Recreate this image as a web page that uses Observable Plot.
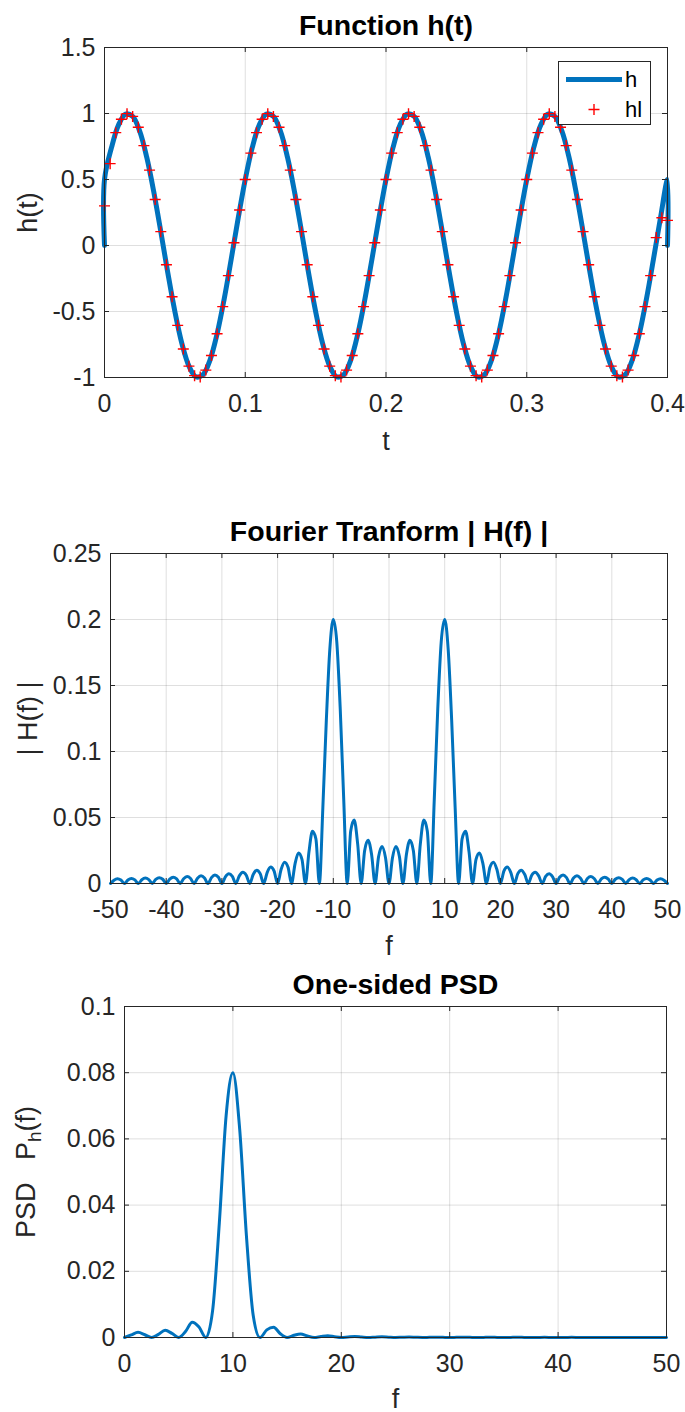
<!DOCTYPE html>
<html><head><meta charset="utf-8">
<script src="https://cdn.jsdelivr.net/npm/d3@7"></script>
<script src="https://cdn.jsdelivr.net/npm/@observablehq/plot@0.6"></script>
<style>
html,body{margin:0;padding:0;background:#fff;}
body{width:685px;height:1412px;position:relative;overflow:hidden;font-family:"Liberation Sans",Arial,Helvetica,sans-serif;}
.panel{position:absolute;left:0;}
#legend{position:absolute;left:558px;top:61px;}
</style></head><body>
<div id="p1" class="panel" style="top:0px"></div>
<div id="p2" class="panel" style="top:460px"></div>
<div id="p3" class="panel" style="top:950px"></div>
<svg id="legend" width="94" height="65" font-family="Liberation Sans, Arial, sans-serif">
  <rect x="0.5" y="0.5" width="92" height="63" fill="#fff" stroke="#262626" stroke-width="1"></rect>
  <line x1="8" x2="64" y1="18.5" y2="18.5" stroke="#0072BD" stroke-width="5"></line>
  <text x="67" y="26" font-size="22" fill="#000">h</text>
  <path d="M30.5,48.5h11M36,43v11" stroke="#FF0000" stroke-width="1.4" fill="none"></path>
  <text x="67" y="56" font-size="22" fill="#000">hl</text>
</svg>
<script>
// ---------- Panel 1: h(t) and hl ----------
const hT = [0,0,0.005,0.01,0.015,0.02,0.025,0.03,0.035,0.04,0.045,0.05,0.055,0.06,0.065,0.07,0.075,0.08,0.085,0.09,0.095,0.1,0.105,0.11,0.115,0.12,0.125,0.13,0.135,0.14,0.145,0.15,0.155,0.16,0.165,0.17,0.175,0.18,0.185,0.19,0.195,0.2,0.205,0.21,0.215,0.22,0.225,0.23,0.235,0.24,0.245,0.25,0.255,0.26,0.265,0.27,0.275,0.28,0.285,0.29,0.295,0.3,0.305,0.31,0.315,0.32,0.325,0.33,0.335,0.34,0.345,0.35,0.355,0.36,0.365,0.37,0.375,0.38,0.385,0.39,0.395,0.4,0.4];
const hV = [0,
 0.5,0.743,0.914,0.995,0.978,0.866,0.669,0.407,0.105,-0.208,-0.5,-0.743,-0.914,-0.995,-0.978,-0.866,-0.669,-0.407,-0.105,0.208,
 0.5,0.743,0.914,0.995,0.978,0.866,0.669,0.407,0.105,-0.208,-0.5,-0.743,-0.914,-0.995,-0.978,-0.866,-0.669,-0.407,-0.105,0.208,
 0.5,0.743,0.914,0.995,0.978,0.866,0.669,0.407,0.105,-0.208,-0.5,-0.743,-0.914,-0.995,-0.978,-0.866,-0.669,-0.407,-0.105,0.208,
 0.5,0.743,0.914,0.995,0.978,0.866,0.669,0.407,0.105,-0.208,-0.5,-0.743,-0.914,-0.995,-0.978,-0.866,-0.669,-0.407,-0.105,0.208,
 0.5,0];
const hlT = [0,0.004,0.008,0.012,0.016,0.02,0.024,0.028,0.032,0.036,0.04,0.044,0.048,0.052,0.056,0.06,0.064,0.068,0.072,0.076,0.08,0.084,0.088,0.092,0.096,0.1,0.104,0.108,0.112,0.116,0.12,0.124,0.128,0.132,0.136,0.14,0.144,0.148,0.152,0.156,0.16,0.164,0.168,0.172,0.176,0.18,0.184,0.188,0.192,0.196,0.2,0.204,0.208,0.212,0.216,0.22,0.224,0.228,0.232,0.236,0.24,0.244,0.248,0.252,0.256,0.26,0.264,0.268,0.272,0.276,0.28,0.284,0.288,0.292,0.296,0.3,0.304,0.308,0.312,0.316,0.32,0.324,0.328,0.332,0.336,0.34,0.344,0.348,0.352,0.356,0.36,0.364,0.368,0.372,0.376,0.38,0.384,0.388,0.392,0.396,0.4];
const hlV = [
 0.30,0.62,0.855,0.957,0.999,0.978,0.896,0.757,0.571,0.349,0.105,-0.146,-0.388,-0.605,-0.784,-0.914,-0.986,-0.997,-0.944,-0.833,-0.669,-0.463,-0.228,0.021,0.269,
 0.5,0.7,0.855,0.957,0.999,0.978,0.896,0.757,0.571,0.349,0.105,-0.146,-0.388,-0.605,-0.784,-0.914,-0.986,-0.997,-0.944,-0.833,-0.669,-0.463,-0.228,0.021,0.269,
 0.5,0.7,0.855,0.957,0.999,0.978,0.896,0.757,0.571,0.349,0.105,-0.146,-0.388,-0.605,-0.784,-0.914,-0.986,-0.997,-0.944,-0.833,-0.669,-0.463,-0.228,0.021,0.269,
 0.5,0.7,0.855,0.957,0.999,0.978,0.896,0.757,0.571,0.349,0.105,-0.146,-0.388,-0.605,-0.784,-0.914,-0.986,-0.997,-0.944,-0.833,-0.669,-0.463,-0.228,0.06,0.21,
 0.19];

// ---------- Panel 2: |H(f)| ----------
const fH = [-50,-49.375,-48.75,-48.125,-47.5,-46.875,-46.25,-45.625,-45,-44.375,-43.75,-43.125,-42.5,-41.875,-41.25,-40.625,-40,-39.375,-38.75,-38.125,-37.5,-36.875,-36.25,-35.625,-35,-34.375,-33.75,-33.125,-32.5,-31.875,-31.25,-30.625,-30,-29.375,-28.75,-28.125,-27.5,-26.875,-26.25,-25.625,-25,-24.375,-23.75,-23.125,-22.5,-21.875,-21.25,-20.625,-20,-19.375,-18.75,-18.125,-17.5,-16.875,-16.25,-15.625,-15,-14.375,-13.75,-13.125,-12.5,-11.875,-11.25,-10.625,-10,-9.375,-8.75,-8.125,-7.5,-6.875,-6.25,-5.625,-5,-4.375,-3.75,-3.125,-2.5,-1.875,-1.25,-0.625,
 0,0.625,1.25,1.875,2.5,3.125,3.75,4.375,5,5.625,6.25,6.875,7.5,8.125,8.75,9.375,10,10.625,11.25,11.875,12.5,13.125,13.75,14.375,15,15.625,16.25,16.875,17.5,18.125,18.75,19.375,20,20.625,21.25,21.875,22.5,23.125,23.75,24.375,25,25.625,26.25,26.875,27.5,28.125,28.75,29.375,30,30.625,31.25,31.875,32.5,33.125,33.75,34.375,35,35.625,36.25,36.875,37.5,38.125,38.75,39.375,40,40.625,41.25,41.875,42.5,43.125,43.75,44.375,45,45.625,46.25,46.875,47.5,48.125,48.75,49.375,50];
const magH = [0,0.00252,0.00362,0.0026,0,0.00268,0.00386,0.00277,0,0.00287,0.00413,0.00297,0,0.00308,0.00445,0.00321,0,0.00334,0.00482,0.00348,0,0.00364,0.00527,0.00381,0,0.00401,0.00581,0.00422,0,0.00446,0.00649,0.00473,0,0.00503,0.00735,0.00538,0,0.00578,0.0085,0.00625,0,0.00681,0.01008,0.00748,0,0.0083,0.01241,0.00932,0,0.01062,0.01615,0.01235,0,0.01473,0.02304,0.01821,0,0.02375,0.03952,0.03384,0,0.05762,0.12375,0.1774,0.2,0.18304,0.13177,0.06336,0,0.03977,0.04809,0.02998,0,0.02486,0.03282,0.02195,0,0.02032,0.02808,0.01958,
 0,0.01958,0.02808,0.02032,0,0.02195,0.03282,0.02486,0,0.02998,0.04809,0.03977,0,0.06336,0.13177,0.18304,0.2,0.1774,0.12375,0.05762,0,0.03384,0.03952,0.02375,0,0.01821,0.02304,0.01473,0,0.01235,0.01615,0.01062,0,0.00932,0.01241,0.0083,0,0.00748,0.01008,0.00681,0,0.00625,0.0085,0.00578,0,0.00538,0.00735,0.00503,0,0.00473,0.00649,0.00446,0,0.00422,0.00581,0.00401,0,0.00381,0.00527,0.00364,0,0.00348,0.00482,0.00334,0,0.00321,0.00445,0.00308,0,0.00297,0.00413,0.00287,0,0.00277,0.00386,0.00268,0,0.0026,0.00362,0.00252,0];

// ---------- Panel 3: one-sided PSD ----------
const fP = [0,0.625,1.25,1.875,2.5,3.125,3.75,4.375,5,5.625,6.25,6.875,7.5,8.125,8.75,9.375,10,10.625,11.25,11.875,12.5,13.125,13.75,14.375,15,15.625,16.25,16.875,17.5,18.125,18.75,19.375,20,20.625,21.25,21.875,22.5,23.125,23.75,24.375,25,25.625,26.25,26.875,27.5,28.125,28.75,29.375,30,30.625,31.25,31.875,32.5,33.125,33.75,34.375,35,35.625,36.25,36.875,37.5,38.125,38.75,39.375,40,40.625,41.25,41.875,42.5,43.125,43.75,44.375,45,45.625,46.25,46.875,47.5,48.125,48.75,49.375,50];
const psd = [0,0.000767,0.001577,0.000826,0,0.000964,0.002154,0.001236,0,0.001798,0.004626,0.003163,0,0.008028,0.034729,0.067006,0.08,0.062941,0.030628,0.006641,0,0.002291,0.003124,0.001129,0,0.000663,0.001062,0.000434,0,0.000305,0.000522,0.000226,0,0.000174,0.000308,0.000138,0,0.000112,0.000203,0.000093,0,0.000078,0.000144,0.000067,0,0.000058,0.000108,0.000051,0,0.000045,0.000084,0.00004,0,0.000036,0.000068,0.000032,0,0.000029,0.000056,0.000027,0,0.000024,0.000047,0.000022,0,0.000021,0.00004,0.000019,0,0.000018,0.000034,0.000017,0,0.000015,0.00003,0.000014,0,0.000014,0.000026,0.000013,0];

// ---------- ticks ----------
const x1Ticks = [0,0.1,0.2,0.3,0.4];
const x1Labels = ["0","0.1","0.2","0.3","0.4"];
const y1Ticks = [-1,-0.5,0,0.5,1,1.5];
const y1Labels = ["-1","-0.5","0","0.5","1","1.5"];
const x2Ticks = [-50,-40,-30,-20,-10,0,10,20,30,40,50];
const x2Labels = ["-50","-40","-30","-20","-10","0","10","20","30","40","50"];
const y2Ticks = [0,0.05,0.1,0.15,0.2,0.25];
const y2Labels = ["0","0.05","0.1","0.15","0.2","0.25"];
const x3Ticks = [0,10,20,30,40,50];
const x3Labels = ["0","10","20","30","40","50"];
const y3Ticks = [0,0.02,0.04,0.06,0.08,0.1];
const y3Labels = ["0","0.02","0.04","0.06","0.08","0.1"];

const INK = "#262626";
const BLUE = "#0072BD";
const FONT = "'Liberation Sans', Arial, Helvetica, sans-serif";
const TICK_FS = 25, TITLE_FS = 28.5, LABEL_FS = 27;

const thinPlus = {draw(ctx, size){ const r = Math.sqrt(size / Math.PI); ctx.moveTo(-r,0); ctx.lineTo(r,0); ctx.moveTo(0,-r); ctx.lineTo(0,r); }};

function panel(o) {
  const W = 685;
  const fw = W - o.ml - o.mr, fh = o.height - o.mt - o.mb;
  const xm = new Map(o.xTicks.map((t,i)=>[t,o.xLabels[i]]));
  const ym = new Map(o.yTicks.map((t,i)=>[t,o.yLabels[i]]));
  return Plot.plot({
    width: W, height: o.height,
    marginLeft: o.ml, marginRight: o.mr, marginTop: o.mt, marginBottom: o.mb,
    style: {fontFamily: FONT, fontSize: TICK_FS + "px", color: INK, background: "transparent", overflow: "visible"},
    x: {domain: o.xDomain}, y: {domain: o.yDomain},
    marks: [
      Plot.gridX(o.xTicks, {stroke: INK, strokeOpacity: 0.15}),
      Plot.gridY(o.yTicks, {stroke: INK, strokeOpacity: 0.15}),
      ...o.marks,
      Plot.frame({stroke: INK, strokeWidth: 1}),
      Plot.tickX(o.xTicks, {x: d=>d, stroke: INK, insetTop: fh - 5}),
      Plot.tickX(o.xTicks, {x: d=>d, stroke: INK, insetBottom: fh - 5}),
      Plot.tickY(o.yTicks, {y: d=>d, stroke: INK, insetRight: fw - 5}),
      Plot.tickY(o.yTicks, {y: d=>d, stroke: INK, insetLeft: fw - 5}),
      Plot.axisX(o.xTicks, {tickSize: 0, tickPadding: 17, tickFormat: d=>xm.get(d), label: null, fontSize: TICK_FS, fill: INK}),
      Plot.axisY(o.yTicks, {tickSize: 0, tickPadding: 9, tickFormat: d=>ym.get(d), label: null, fontSize: TICK_FS, fill: INK}),
      Plot.text([o.title], {text: d=>d, frameAnchor: "top", lineAnchor: "middle", textAnchor: "middle", dy: -22, fontWeight: "bold", fontSize: TITLE_FS, fill: "#000"}),
      Plot.text([o.xLabel], {text: d=>d, frameAnchor: "bottom", lineAnchor: "middle", textAnchor: "middle", dy: o.xLabelDy, fontSize: LABEL_FS, fill: INK}),
      Plot.text([o.yLabel], {text: d=>d, frameAnchor: "left", lineAnchor: "middle", textAnchor: "middle", dx: o.yLabelDx, rotate: -90, fontSize: LABEL_FS, fill: INK})
    ]
  });
}

const rowsH = hT.map((t,i)=>({t, v: hV[i]}));
const rowsHL = hlT.map((t,i)=>({t, v: hlV[i]}));
const rowsF = fH.map((f,i)=>({f, v: magH[i]}));
const rowsP = fP.map((f,i)=>({f, v: psd[i]}));

document.getElementById("p1").append(panel({
  height: 460, ml: 104, mr: 18, mt: 47, mb: 83,
  xDomain: [0,0.4], yDomain: [-1,1.5],
  xTicks: x1Ticks, xLabels: x1Labels, yTicks: y1Ticks, yLabels: y1Labels,
  title: "Function h(t)", xLabel: "t", xLabelDy: 64, yLabel: "h(t)", yLabelDx: -76,
  marks: [
    Plot.line(rowsH, {x: "t", y: "v", stroke: BLUE, strokeWidth: 5, curve: "catmull-rom", strokeLinejoin: "round"}),
    Plot.dot(rowsHL, {x: "t", y: "v", symbol: thinPlus, r: 5.5, stroke: "#FF0000", strokeWidth: 1.4, fill: "none"})
  ]
}));

document.getElementById("p2").append(panel({
  height: 490, ml: 110, mr: 18, mt: 93, mb: 67,
  xDomain: [-50,50], yDomain: [0,0.25],
  xTicks: x2Ticks, xLabels: x2Labels, yTicks: y2Ticks, yLabels: y2Labels,
  title: "Fourier Tranform | H(f) |", xLabel: "f", xLabelDy: 63, yLabel: "| H(f) |", yLabelDx: -82,
  marks: [
    Plot.line(rowsF, {x: "f", y: "v", stroke: BLUE, strokeWidth: 3, curve: "monotone-x", strokeLinejoin: "round"})
  ]
}));

const svg3 = panel({
  height: 462, ml: 124, mr: 19, mt: 56, mb: 75,
  xDomain: [0,50], yDomain: [0,0.1],
  xTicks: x3Ticks, xLabels: x3Labels, yTicks: y3Ticks, yLabels: y3Labels,
  title: "One-sided PSD", xLabel: "f", xLabelDy: 62, yLabel: "PSD  Ph(f)", yLabelDx: -98,
  marks: [
    Plot.line(rowsP, {x: "f", y: "v", stroke: BLUE, strokeWidth: 3, curve: "monotone-x", strokeLinejoin: "round"})
  ]
});
document.getElementById("p3").append(svg3);

// subscript in the PSD y label
svg3.querySelectorAll("text").forEach(t => {
  if (t.textContent === "PSD  Ph(f)") {
    const NS = "http://www.w3.org/2000/svg";
    t.textContent = "";
    t.style.whiteSpace = "pre";
    const a = document.createElementNS(NS, "tspan"); a.textContent = "PSD\u00a0\u00a0\u00a0P";
    const b = document.createElementNS(NS, "tspan"); b.textContent = "h"; b.setAttribute("dy", "6"); b.setAttribute("font-size", "19");
    const c = document.createElementNS(NS, "tspan"); c.textContent = "(f)"; c.setAttribute("dy", "-6");
    t.append(a, b, c);
  }
});
</script>
</body></html>
